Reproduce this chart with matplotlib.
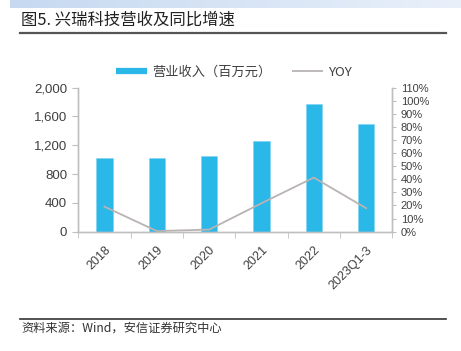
# -*- coding: utf-8 -*-
# 兴瑞科技营收及同比增速 (柱状图 + 折线图, 双轴)
import numpy as np
import matplotlib
matplotlib.use("Agg")
import matplotlib.pyplot as plt
from matplotlib.lines import Line2D
from matplotlib.colors import LinearSegmentedColormap

plt.rcParams['font.family'] = ['Liberation Sans', 'Noto Sans CJK SC', 'DejaVu Sans']

# データ
categories = ["2018", "2019", "2020", "2021", "2022", "2023Q1-3"]
revenue = [1021, 1026, 1044, 1258, 1777, 1499]       # 营业收入（百万元）
yoy = [0.191, 0.005, 0.016, 0.217, 0.413, 0.179]     # YOY

W, H = 461, 351
bar_color = '#29b8e8'
line_color = '#b9b3b3'
txt_color = '#404040'
axis_color = '#bfbfbf'
cjk = ['Noto Sans CJK SC', 'DejaVu Sans']

fig = plt.figure(figsize=(W / 100, H / 100), dpi=100)

# 上部の薄い青帯
band = fig.add_axes([10 / W, 1 - 8 / H, (W - 10) / W, 8 / H])
cmap = LinearSegmentedColormap.from_list('band', ['#c6d9f1', '#e9f0fa'])
band.imshow(np.linspace(0, 1, 256)[None, :], aspect='auto', cmap=cmap)
band.axis('off')

# タイトルと罫線
fig.text(21 / W, 1 - 20 / H, "图5. 兴瑞科技营收及同比增速", family=cjk,
         fontsize=11.8, color='#222222', va='center', ha='left', weight='medium')
fig.add_artist(Line2D([20 / W, 446 / W], [1 - 33 / H, 1 - 33 / H],
                      color='#555555', lw=1.6, transform=fig.transFigure))
fig.add_artist(Line2D([20 / W, 446 / W], [1 - 319 / H, 1 - 319 / H],
                      color='#333333', lw=1.2, transform=fig.transFigure))
fig.text(21 / W, 1 - 328 / H, "资料来源：Wind，安信证券研究中心", family=cjk,
         fontsize=8.8, color='#333333', va='center', ha='left', style='italic')

# メインの軸
left, right, top, bottom = 78.3, 392.3, 87.5, 231.7
ax1 = fig.add_axes([left / W, 1 - bottom / H, (right - left) / W, (bottom - top) / H])
ax2 = ax1.twinx()

x = np.arange(len(categories))
ax1.bar(x, revenue, width=0.315, color=bar_color, edgecolor='#7fd3f0', linewidth=0.4, zorder=2)
ax2.plot(x, yoy, color=line_color, lw=1.3, zorder=3)

ax1.set_xlim(-0.5, len(categories) - 0.5)
ax1.set_ylim(0, 2000)
ax2.set_ylim(0, 1.1)

ax1.set_yticks(np.arange(0, 2001, 400))
ax1.set_yticklabels([f"{v:,}" for v in range(0, 2001, 400)])
ax2.set_yticks(np.arange(0, 1.101, 0.1))
ax2.set_yticklabels([f"{v}%" for v in range(0, 111, 10)])

ax1.set_xticks(x)
ax1.set_xticklabels(categories, rotation=45, ha='right', va='top', rotation_mode='anchor')
ax1.set_xticks(np.arange(-0.5, len(categories)), minor=True)
ax1.tick_params(axis='x', which='major', length=0, pad=9, labelsize=9, labelcolor=txt_color)
ax1.tick_params(axis='x', which='minor', length=4, color=axis_color, direction='out')
ax1.tick_params(axis='y', length=4, color=axis_color, pad=4, labelsize=9.5, labelcolor=txt_color)
ax2.tick_params(axis='y', length=3, color=axis_color, pad=3, labelsize=8, labelcolor=txt_color)

for ax in (ax1, ax2):
    ax.spines['top'].set_visible(False)
    for s in ('left', 'right', 'bottom'):
        ax.spines[s].set_color(axis_color)
        ax.spines[s].set_linewidth(1.0)

# 凡例
handles = [Line2D([], [], color=bar_color, lw=4.5, solid_capstyle='butt'),
           Line2D([], [], color=line_color, lw=1.3, solid_capstyle='butt')]
labels = ["营业收入（百万元）", "YOY"]
fig.legend(handles, labels, loc='center', bbox_to_anchor=(234 / W, 1 - 72 / H),
           ncol=2, frameon=False, handlelength=2.3, handletextpad=0.4,
           columnspacing=1.6, prop={'family': cjk, 'size': 9.5},
           labelcolor=txt_color)

fig.savefig("out.png", dpi=100)
